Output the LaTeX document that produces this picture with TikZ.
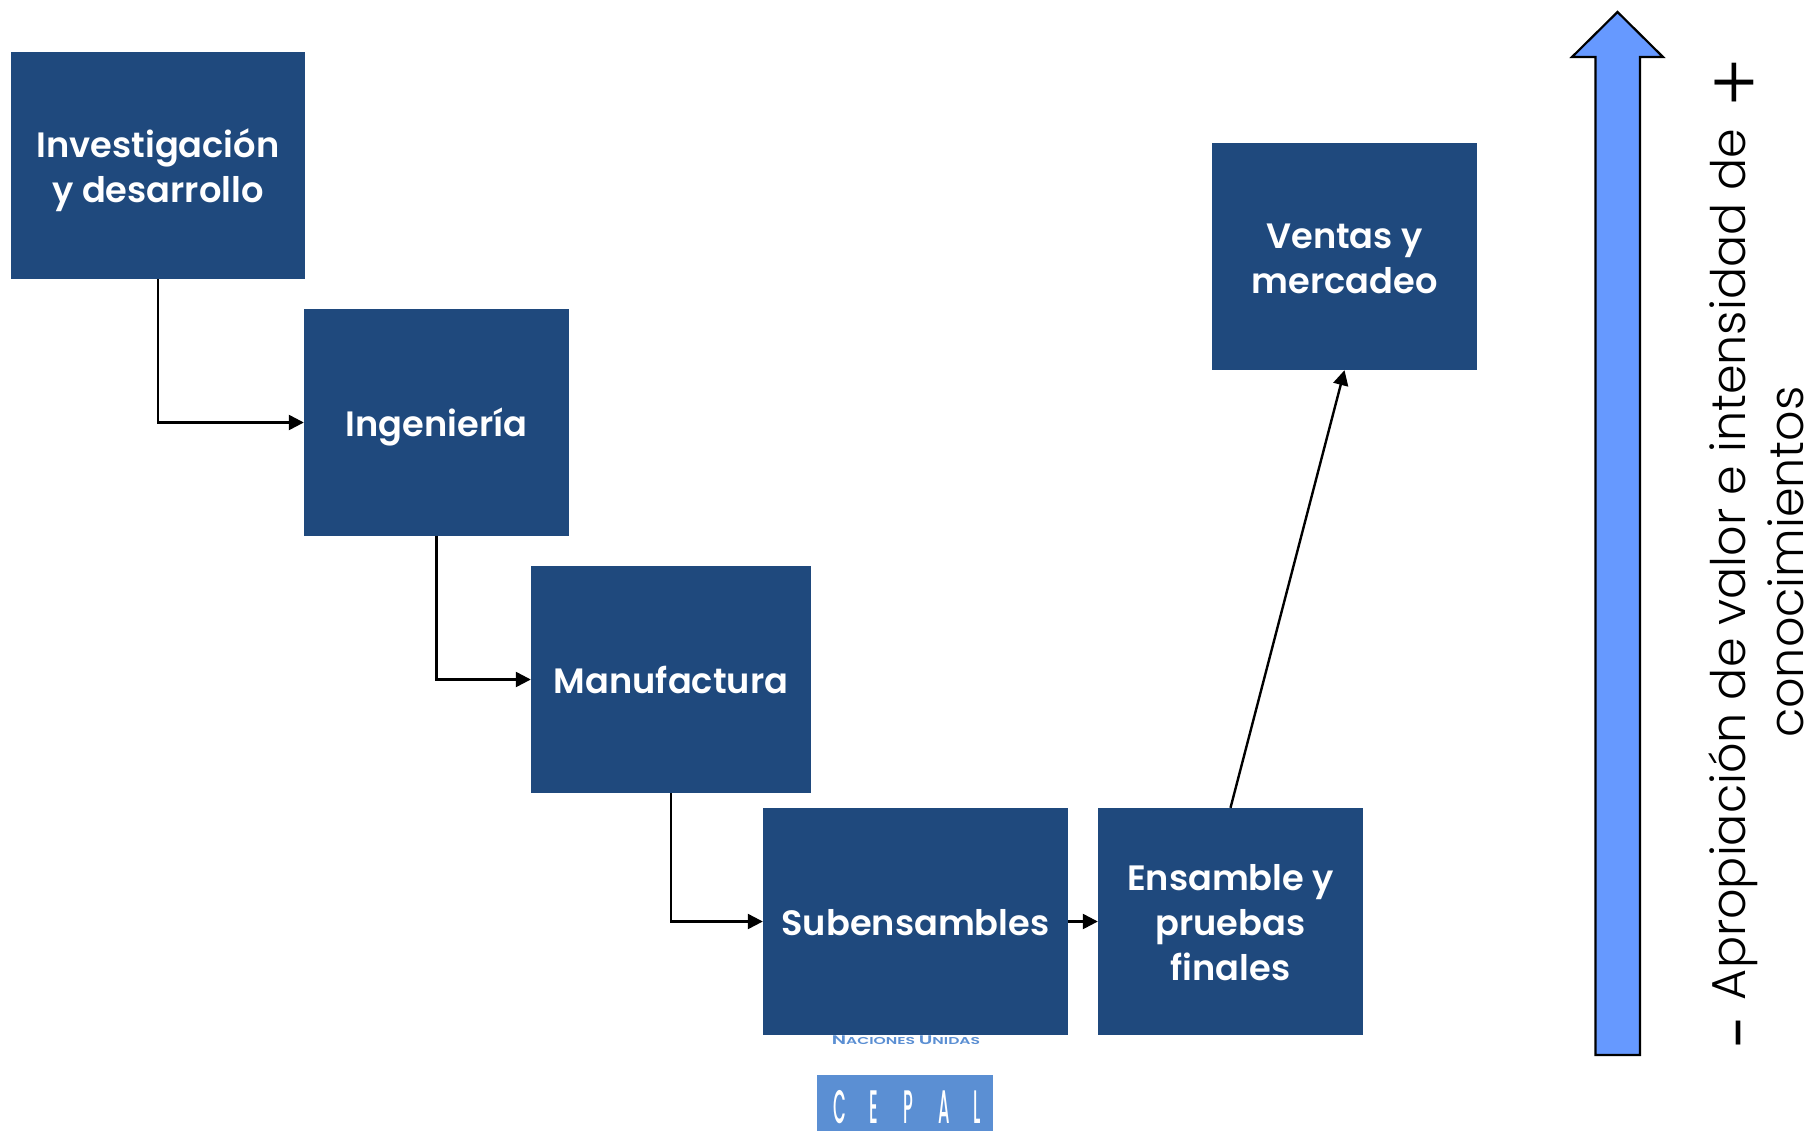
\documentclass[tikz,border=0pt]{standalone}
\usepackage{fontspec}
\setmainfont[BoldFont={Poppins SemiBold}]{Poppins}
\newfontfamily\lightface{Poppins Light}
\newfontfamily\mediumface{Poppins Medium}
\usetikzlibrary{arrows.meta}
\definecolor{boxblue}{HTML}{1F497D}
\definecolor{arrowblue}{HTML}{6699FF}
\definecolor{logoblue}{HTML}{5B8FD3}
\tikzset{
  x=1pt,y=-1pt,
  stage/.style={fill=boxblue,text=white,font=\fontsize{35.2}{45}\selectfont\bfseries,align=center,anchor=center,inner sep=0pt},
  flow/.style={draw=black,line width=2.4pt,-{Triangle[length=15pt,width=15pt]}}
}
\newcommand{\lineS}[1]{\strut\smash{\raisebox{-5pt}{#1}}}
\begin{document}
\begin{tikzpicture}
\useasboundingbox (0,0) rectangle (1810,1130);
\fill[white] (0,0) rectangle (1810,1130);
% logo
\node[font=\fontsize{12.5}{14}\selectfont\bfseries,text=logoblue,inner sep=0pt] (nu) at (906,1040) {\scalebox{1.56}[1]{N\fontsize{10}{12}\selectfont ACIONES \fontsize{12.5}{14}\selectfont U\fontsize{10}{12}\selectfont NIDAS}};
\node[fill=logoblue,minimum width=176pt,minimum height=62pt,inner sep=0pt,anchor=north] (cepal) at (905,1075) {};
\node[text=white,inner sep=0pt,anchor=base,font=\mediumface\fontsize{47}{47}\selectfont] (cepaltext) at (907,1123) {\scalebox{0.35}[1]{C\hspace{68pt}E\hspace{72pt}P\hspace{70pt}A\hspace{68pt}L}};
% stages
\node[stage,minimum width=294pt,minimum height=227pt] (inv) at (158,165.5) {\lineS{Investigación}\\\lineS{y desarrollo}};
\node[stage,minimum width=265pt,minimum height=227pt] (ing) at (436.5,422.5) {\lineS{Ingeniería}};
\node[stage,minimum width=280pt,minimum height=227pt] (man) at (671,679.5) {\lineS{Manufactura}};
\node[stage,minimum width=305pt,minimum height=227pt] (sub) at (915.5,921.5) {\lineS{Subensambles}};
\node[stage,minimum width=265pt,minimum height=227pt] (ens) at (1230.5,921.5) {\lineS{Ensamble y}\\\lineS{pruebas}\\\lineS{finales}};
\node[stage,minimum width=265pt,minimum height=227pt] (ven) at (1344.5,256.5) {\lineS{Ventas y}\\\lineS{mercadeo}};
% connectors
\draw[flow] (inv.south) |- (ing.west);
\draw[flow] (ing.south) |- (man.west);
\draw[flow] (man.south) |- (sub.west);
\draw[flow] (sub.east) -- (ens.west);
\draw[flow] (ens.north) -- (ven.south);
% big arrow
\draw[fill=arrowblue,draw=black,line width=2.2pt,line join=miter]
  (1595.5,1055) -- (1595.5,57) -- (1572,57) -- (1617.5,12) -- (1663,57) -- (1640,57) -- (1640,1055) -- cycle;
% side text
\node[rotate=90,align=center,inner sep=0pt,anchor=center,font=\lightface\fontsize{47.6}{58}\selectfont] (axis) at (1756.5,562)
  {\hspace*{18pt}\smash{\raisebox{-14.5pt}{\fontsize{60}{60}\selectfont\mdseries\rmfamily -}}\hspace{2pt} Apropiación de valor e intensidad de \hspace{8pt}\smash{\raisebox{-16.5pt}{\fontsize{76}{76}\selectfont +}}\\conocimientos};
\end{tikzpicture}
\end{document}
